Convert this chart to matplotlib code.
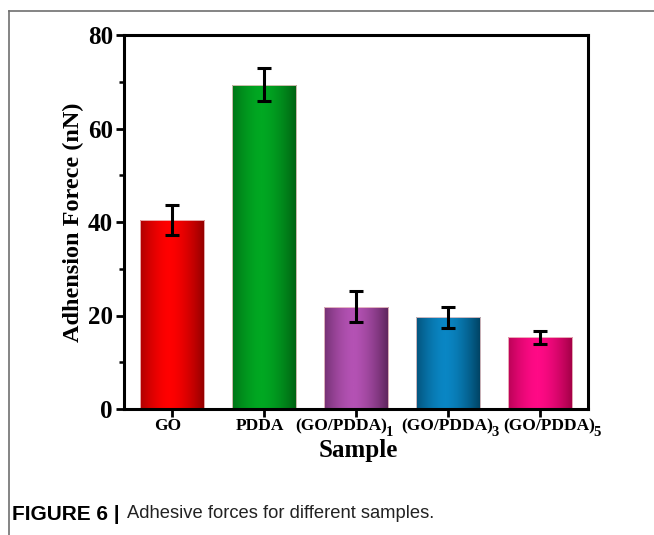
import numpy as np
import matplotlib
matplotlib.use("Agg")
import matplotlib.pyplot as plt
from matplotlib.lines import Line2D
from matplotlib.colors import LinearSegmentedColormap

plt.rcParams['font.family'] = ['Liberation Serif', 'DejaVu Serif']

categories = ['GO', 'PDDA', '(GO/PDDA)', '(GO/PDDA)', '(GO/PDDA)']
subscripts = ['', '', '1', '3', '5']
values = [40.4, 69.4, 21.9, 19.6, 15.3]
errors = [3.2, 3.5, 3.3, 2.2, 1.3]
edge_colors = ['#900000', '#006012', '#5c245a', '#004060', '#a00044']
center_colors = ['#ff0000', '#00a822', '#b452b4', '#0a86c4', '#ff0a86']
yticks = [0, 20, 40, 60, 80]

W, H = 654, 535
fig = plt.figure(figsize=(W / 100, H / 100), dpi=100)
ax = fig.add_axes([124 / W, 1 - 409 / H, (588 - 124) / W, (409 - 35) / H])

x = np.arange(1, len(categories) + 1)
width = 0.7
bars = ax.bar(x, values, width=width, color='none', edgecolor='#f0c8c8', linewidth=0.6, zorder=2)

# horizontal gradient fill for each bar
t = np.linspace(0, 1, 256)
prof = np.clip(1 - np.abs((t - 0.45) / 0.55) ** 1.6, 0, 1)
for b, ec, cc in zip(bars, edge_colors, center_colors):
    cmap = LinearSegmentedColormap.from_list('g', [ec, cc])
    x0, y0 = b.get_x(), b.get_y()
    w, h = b.get_width(), b.get_height()
    im = ax.imshow(prof[np.newaxis, :], cmap=cmap, vmin=0, vmax=1, aspect='auto',
                   extent=[x0, x0 + w, y0, y0 + h], zorder=1, interpolation='bilinear')
    im.set_clip_path(b)

ax.errorbar(x, values, yerr=errors, fmt='none', ecolor='black', elinewidth=2.2,
            capsize=5, capthick=2.2, zorder=3)

ax.set_xlim(0.48, 5.52)
ax.set_ylim(0, 80)
ax.set_yticks(yticks)
ax.set_yticks([10, 30, 50, 70], minor=True)
ax.set_xticks(x)
ax.set_xticklabels([''] * len(x))
ax.set_yticklabels([str(v) for v in yticks], fontsize=18, fontweight='bold')
ax.tick_params(axis='y', which='major', direction='out', length=6, width=2, pad=2)
ax.tick_params(axis='y', which='minor', direction='out', length=3.5, width=1.8)
ax.tick_params(axis='x', which='major', direction='out', length=6, width=2)
for s in ax.spines.values():
    s.set_linewidth(2.2)

# manual x tick labels with large subscripts (pixel offsets for layout only)
fig.canvas.draw()
renderer = fig.canvas.get_renderer()
label_y_px = 426
label_offsets_px = [-4, -4, -12, 2, 12]
fs = 12.5
sub_fs = 10.5
for xi, lab, sub, off in zip(x, categories, subscripts, label_offsets_px):
    cx = ax.transData.transform((xi, 0))[0] + off
    main = fig.text(cx / W, 1 - label_y_px / H, lab, fontsize=fs, fontweight='bold',
                    ha='center', va='center')
    if sub:
        bb = main.get_window_extent(renderer=renderer)
        sbb_w = 6.0
        left = cx - (bb.width + sbb_w) / 2.0
        main.set_x(left / W)
        main.set_ha('left')
        fig.text((left + bb.width - 1.5) / W, 1 - (label_y_px + 7) / H, sub, fontsize=sub_fs,
                 fontweight='bold', ha='left', va='center')

ax.set_ylabel('Adhension Forece (nN)', fontsize=17.5, fontweight='bold', labelpad=3)
fig.text(358 / W, 1 - 451 / H, 'Sample', fontsize=18, fontweight='bold', ha='center', va='center')

# outer frame lines
fig.add_artist(Line2D([9 / W, 9 / W], [0, 1 - 11 / H], transform=fig.transFigure, color='#707070', linewidth=1.2))
fig.add_artist(Line2D([9 / W, 1], [1 - 11 / H, 1 - 11 / H], transform=fig.transFigure, color='#707070', linewidth=1.2))

# caption
fig.text(12 / W, 1 - 514 / H, 'FIGURE 6 |', fontsize=15, fontweight='bold',
         family=['Liberation Sans', 'DejaVu Sans'], va='center', ha='left')
fig.text(127 / W, 1 - 514 / H, 'Adhesive forces for different samples.', fontsize=13.2,
         family=['Liberation Sans', 'DejaVu Sans'], va='center', ha='left', color='#222222')

fig.savefig('out.png', dpi=100)
